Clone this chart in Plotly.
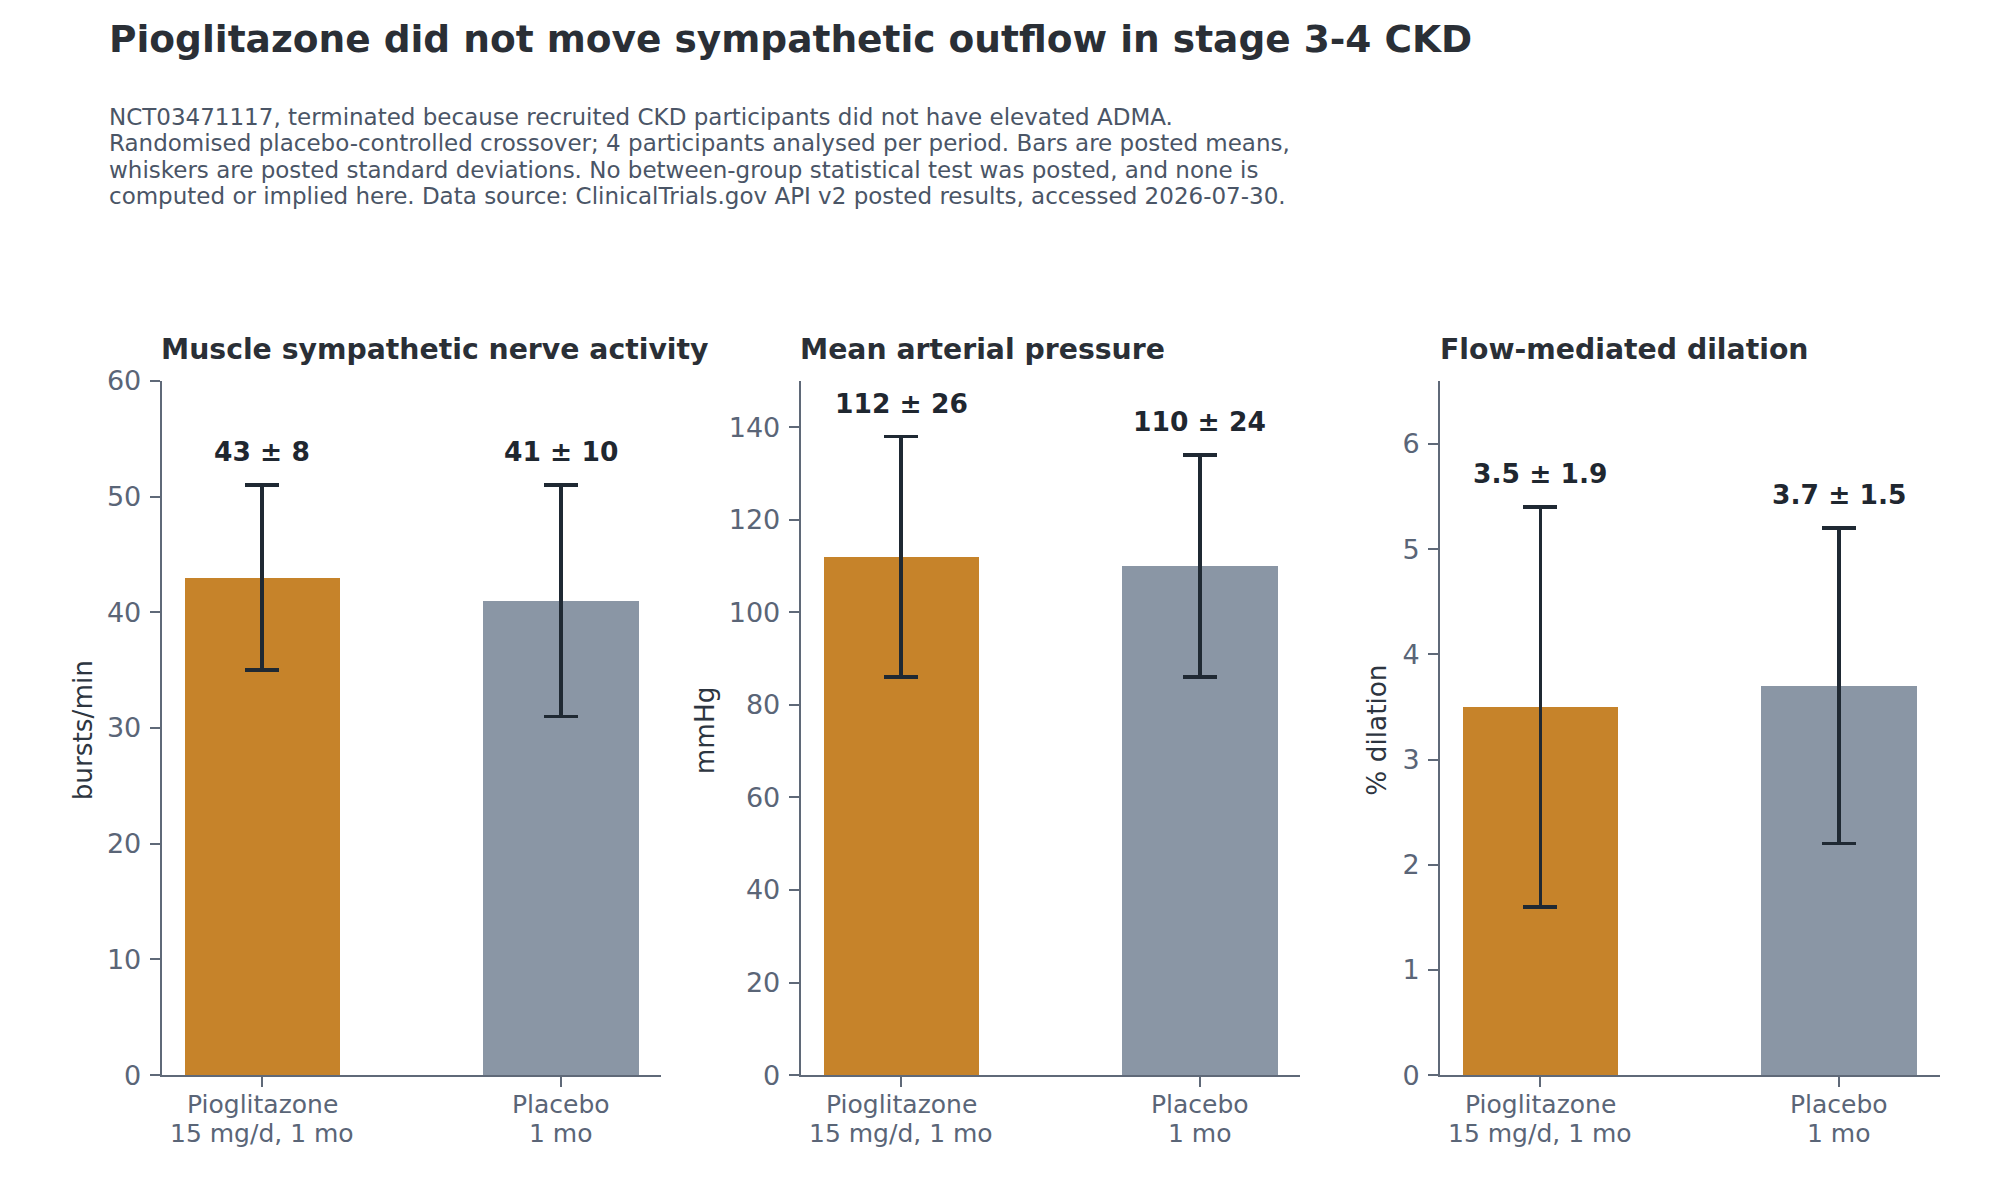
import plotly.graph_objects as go

# ---- data ----
groups = ["Pioglitazone<br>15 mg/d, 1 mo", "Placebo<br>1 mo"]
group_colors = ["#C6832A", "#8A96A5"]

panel_titles = ["Muscle sympathetic nerve activity", "Mean arterial pressure", "Flow-mediated dilation"]
panel_units = ["bursts/min", "mmHg", "% dilation"]

msna_mean = [43, 41]
msna_sd = [8, 10]
map_mean = [112, 110]
map_sd = [26, 24]
fmd_mean = [3.5, 3.7]
fmd_sd = [1.9, 1.5]

y_max = [60, 150, 6.6]
y_dtick = [10, 20, 1]
label_decimals = [0, 0, 1]

title_text = "Pioglitazone did not move sympathetic outflow in stage 3-4 CKD"
subtitle_lines = [
    "NCT03471117, terminated because recruited CKD participants did not have elevated ADMA.",
    "Randomised placebo-controlled crossover; 4 participants analysed per period. Bars are posted means,",
    "whiskers are posted standard deviations. No between-group statistical test was posted, and none is",
    "computed or implied here. Data source: ClinicalTrials.gov API v2 posted results, accessed 2026-07-30.",
]

means = [msna_mean, map_mean, fmd_mean]
sds = [msna_sd, map_sd, fmd_sd]

# ---- layout constants (pixels, as seen in the target picture) ----
W, H = 2000, 1200
FONT = "DejaVu Sans"
axis_left = [161.7, 800.7, 1440.0]
axis_w = 499.5
axis_top, axis_bottom = 382.5, 1074.0
ylabel_offset = [79, 96, 63]
ylabel_center = 730.9
# empirical vertical calibration of the capture
OFF, SCALE = 19.1, 0.9703

TITLE_C = "#2A2F36"
SUB_C = "#4A5566"
TICK_C = "#5A6577"
LINE_C = "#5F6978"
LABEL_C = "#2D3540"
ERR_C = "#1F2933"

def px_x(x):
    return x / W

def px_y(y):
    return 1 - ((y - OFF) / SCALE) / H

fig = go.Figure()
annotations = []
x_pos = [0, 1]

for i in range(3):
    ax = "" if i == 0 else str(i + 1)
    fig.add_trace(go.Bar(
        x=x_pos, y=means[i],
        width=0.52,
        marker=dict(color=group_colors, line=dict(width=0)),
        error_y=dict(type="data", array=sds[i], visible=True,
                     color=ERR_C, thickness=3.5, width=17),
        xaxis="x" + ax, yaxis="y" + ax,
        showlegend=False, hoverinfo="skip",
    ))
    x0 = px_x(axis_left[i])
    x1 = px_x(axis_left[i] + axis_w)
    fig.update_layout(**{
        "xaxis" + ax: dict(
            domain=[x0, x1], range=[-0.336, 1.336],
            tickvals=x_pos, ticktext=groups, showticklabels=False,
            showline=True, linecolor=LINE_C, linewidth=2,
            ticks="outside", ticklen=10, tickwidth=2, tickcolor=LINE_C,
            showgrid=False, zeroline=False, fixedrange=True,
            anchor="y" + ax,
        ),
        "yaxis" + ax: dict(
            domain=[px_y(axis_bottom), px_y(axis_top)],
            range=[0, y_max[i]], dtick=y_dtick[i], tick0=0,
            showline=True, linecolor=LINE_C, linewidth=2,
            ticks="outside", ticklen=10, tickwidth=2, tickcolor=LINE_C,
            tickfont=dict(family=FONT, size=27, color=TICK_C),
            ticklabelstandoff=3,
            showgrid=False, zeroline=False, fixedrange=True,
            anchor="x" + ax,
        ),
    })
    # category labels (two lines each)
    for j, g in enumerate(groups):
        for k, part in enumerate(g.split("<br>")):
            annotations.append(dict(
                text=part, xref="x" + ax, yref="paper",
                x=x_pos[j], y=px_y([1103.7, 1132.6][k]),
                xanchor="center", yanchor="middle", showarrow=False,
                font=dict(family=FONT, size=25, color=TICK_C),
            ))
    # panel title
    annotations.append(dict(
        text=panel_titles[i], xref="paper", yref="paper",
        x=px_x(axis_left[i] - 2.5), y=px_y(351.3), xanchor="left", yanchor="middle",
        showarrow=False,
        font=dict(family=FONT, size=28.3, color=TITLE_C, weight="bold"),
    ))
    # y-axis title
    annotations.append(dict(
        text=panel_units[i], xref="paper", yref="paper",
        x=px_x(axis_left[i] - ylabel_offset[i]), y=px_y(ylabel_center),
        xanchor="center", yanchor="middle", textangle=-90,
        showarrow=False,
        font=dict(family=FONT, size=26.3, color=LABEL_C),
    ))
    # value labels
    d = label_decimals[i]
    for j in range(2):
        m, s = means[i][j], sds[i][j]
        annotations.append(dict(
            text=f"{m:.{d}f} ± {s:.{d}f}",
            xref="x" + ax, yref="y" + ax,
            x=x_pos[j], y=m + s, yshift=32.2 / SCALE,
            xanchor="center", yanchor="middle", showarrow=False,
            font=dict(family=FONT, size=26.5, color="#1F2730", weight="bold"),
        ))

# main title
annotations.append(dict(
    text=title_text, xref="paper", yref="paper",
    x=px_x(107), y=px_y(42.3), xanchor="left", yanchor="middle",
    showarrow=False,
    font=dict(family=FONT, size=37.5, color=TITLE_C, weight="bold"),
))
# subtitle lines
sub_centers = [119.4, 146.0, 172.3, 198.4]
for line, c in zip(subtitle_lines, sub_centers):
    annotations.append(dict(
        text=line, xref="paper", yref="paper",
        x=px_x(107), y=px_y(c), xanchor="left", yanchor="middle",
        showarrow=False,
        font=dict(family=FONT, size=23, color=SUB_C),
    ))

fig.update_layout(
    width=W, height=H,
    margin=dict(l=0, r=0, t=0, b=0),
    paper_bgcolor="white", plot_bgcolor="white",
    annotations=annotations,
    bargap=0,
)

fig.write_html(
    "out.html",
    config={"displayModeBar": False},
    post_script="document.body.style.margin='0';document.body.style.overflow='hidden';",
)
